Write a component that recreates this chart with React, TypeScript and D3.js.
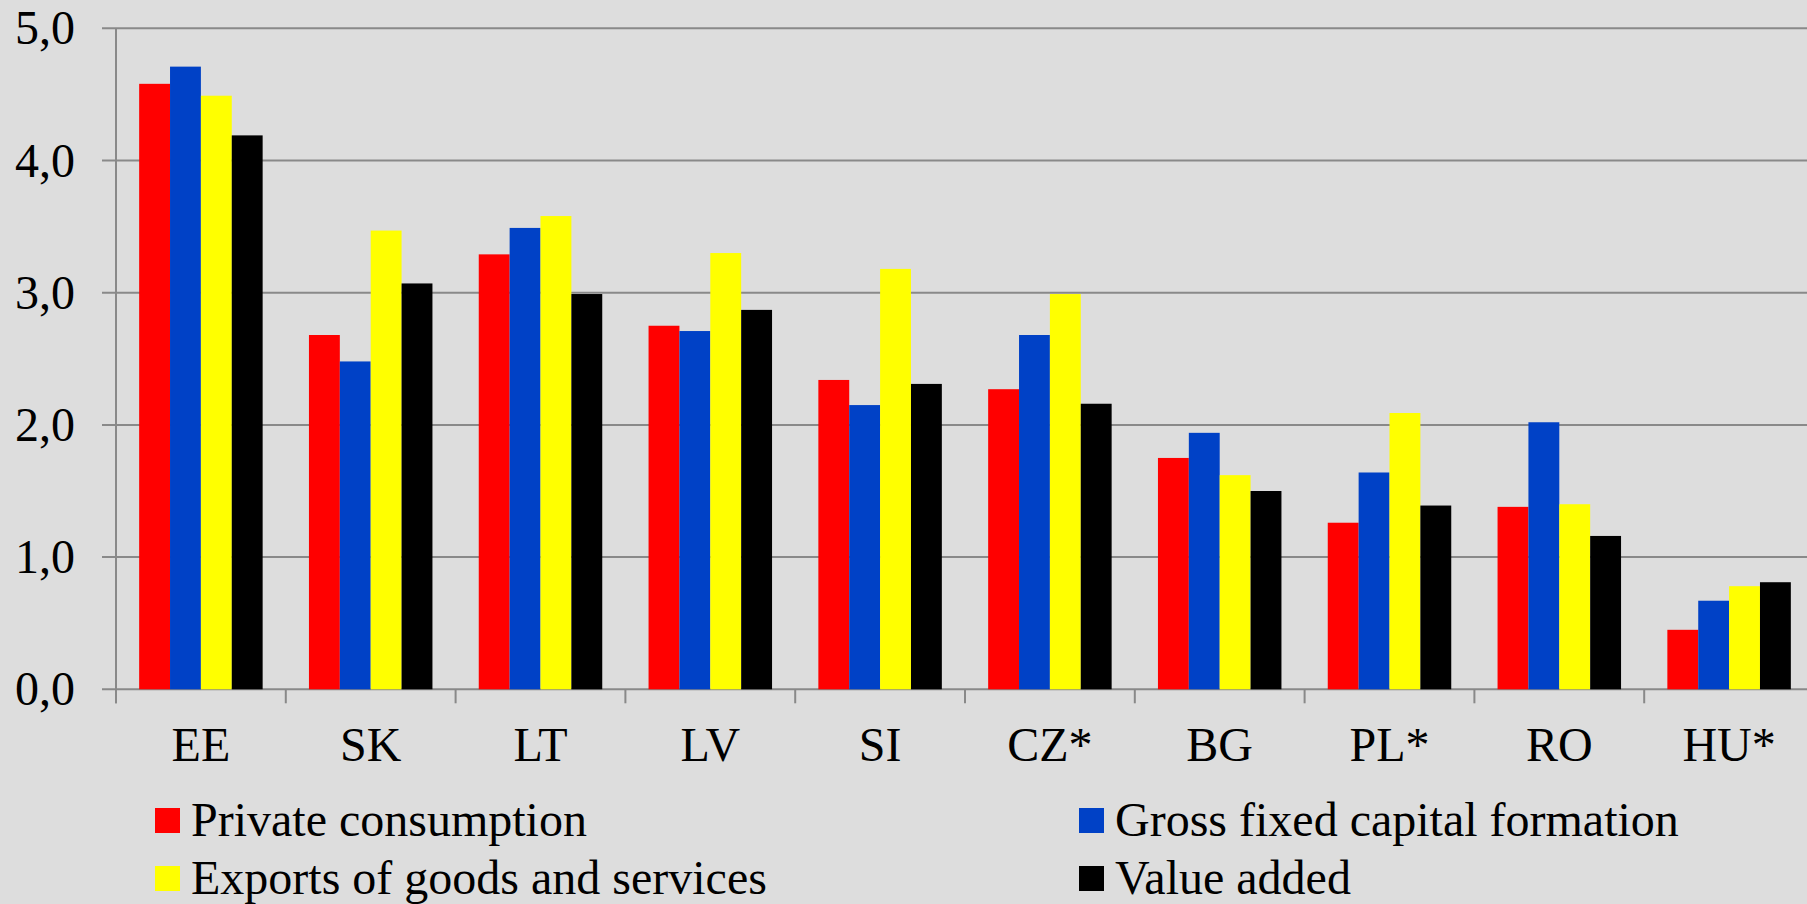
import * as d3 from 'd3';
import React, { useEffect } from 'react';

// growth contributions by country
const countries = ['EE', 'SK', 'LT', 'LV', 'SI', 'CZ*', 'BG', 'PL*', 'RO', 'HU*'];
const privateConsumption = [4.58, 2.68, 3.29, 2.75, 2.34, 2.27, 1.75, 1.26, 1.38, 0.45];
const grossFixedCapital = [4.71, 2.48, 3.49, 2.71, 2.15, 2.68, 1.94, 1.64, 2.02, 0.67];
const exportsGoods = [4.49, 3.47, 3.58, 3.30, 3.18, 2.99, 1.62, 2.09, 1.40, 0.78];
const valueAdded = [4.19, 3.07, 2.99, 2.87, 2.31, 2.16, 1.50, 1.39, 1.16, 0.81];
const yTicks = [0, 1, 2, 3, 4, 5];

const seriesNames = [
  'Private consumption',
  'Gross fixed capital formation',
  'Exports of goods and services',
  'Value added',
];
const seriesColors = ['#ff0000', '#0041c6', '#ffff00', '#000000'];

const W = 1807;
const H = 904;
const left = 116;
const top = 28.3;
const bottom = 689.3;
const step = 169.8;
const font = '"Liberation Serif", "Times New Roman", serif';
const fontSize = 48;
const gridColor = '#898989';

export default function App() {
  useEffect(() => {
    document.body.style.margin = '0';
    document.body.style.overflow = 'hidden';
  }, []);

  const series = [privateConsumption, grossFixedCapital, exportsGoods, valueAdded];

  const x = d3.scaleBand<string>()
    .domain(countries)
    .range([left, left + step * countries.length]);

  const xInner = d3.scaleBand<number>()
    .domain(d3.range(series.length))
    .range([0, x.bandwidth()])
    .paddingInner(0)
    .paddingOuter(0.75);

  const y = d3.scaleLinear().domain([0, 5]).range([bottom, top]);
  const fmt = (v: number) => d3.format('.1f')(v).replace('.', ',');

  // legend layout: 2 columns, 2 rows
  const legendX = [155, 1079];
  const legendY = [808, 866];

  return (
    <svg width={W} height={H} style={{ display: 'block', position: 'absolute', left: 0, top: 0 }}>
      <rect x={0} y={0} width={W} height={H} fill="#dddddd" />

      {/* grid lines */}
      {yTicks.map((t) => (
        <line key={'g' + t} x1={left - 14} x2={W + 10} y1={y(t)} y2={y(t)}
          stroke={gridColor} strokeWidth={2} />
      ))}

      {/* y axis */}
      <line x1={left} x2={left} y1={top} y2={bottom + 14} stroke={gridColor} strokeWidth={2} />
      {yTicks.map((t) => (
        <text key={'yl' + t} x={75} y={y(t) + 16} textAnchor="end"
          fontFamily={font} fontSize={fontSize} fill="#000">{fmt(t)}</text>
      ))}

      {/* x ticks */}
      {d3.range(countries.length + 1).map((i) => (
        <line key={'xt' + i} x1={left + i * step} x2={left + i * step} y1={bottom} y2={bottom + 14}
          stroke={gridColor} strokeWidth={2} />
      ))}

      {/* bars */}
      {countries.map((c, ci) => (
        <g key={c} transform={`translate(${x(c)},0)`}>
          {series.map((s, si) => (
            <rect key={si} x={xInner(si)} y={y(s[ci])} width={xInner.bandwidth()}
              height={bottom - y(s[ci])} fill={seriesColors[si]} />
          ))}
        </g>
      ))}

      {/* x labels */}
      {countries.map((c) => (
        <text key={'xl' + c} x={(x(c) as number) + x.bandwidth() / 2} y={761} textAnchor="middle"
          fontFamily={font} fontSize={fontSize} fill="#000">{c}</text>
      ))}

      {/* legend */}
      {seriesNames.map((name, i) => {
        const lx = legendX[i % 2];
        const ly = legendY[Math.floor(i / 2)];
        return (
          <g key={name}>
            <rect x={lx} y={ly} width={25} height={25} fill={seriesColors[i]} />
            <text x={lx + 36} y={ly + 28} fontFamily={font} fontSize={fontSize} fill="#000">{name}</text>
          </g>
        );
      })}
    </svg>
  );
}
